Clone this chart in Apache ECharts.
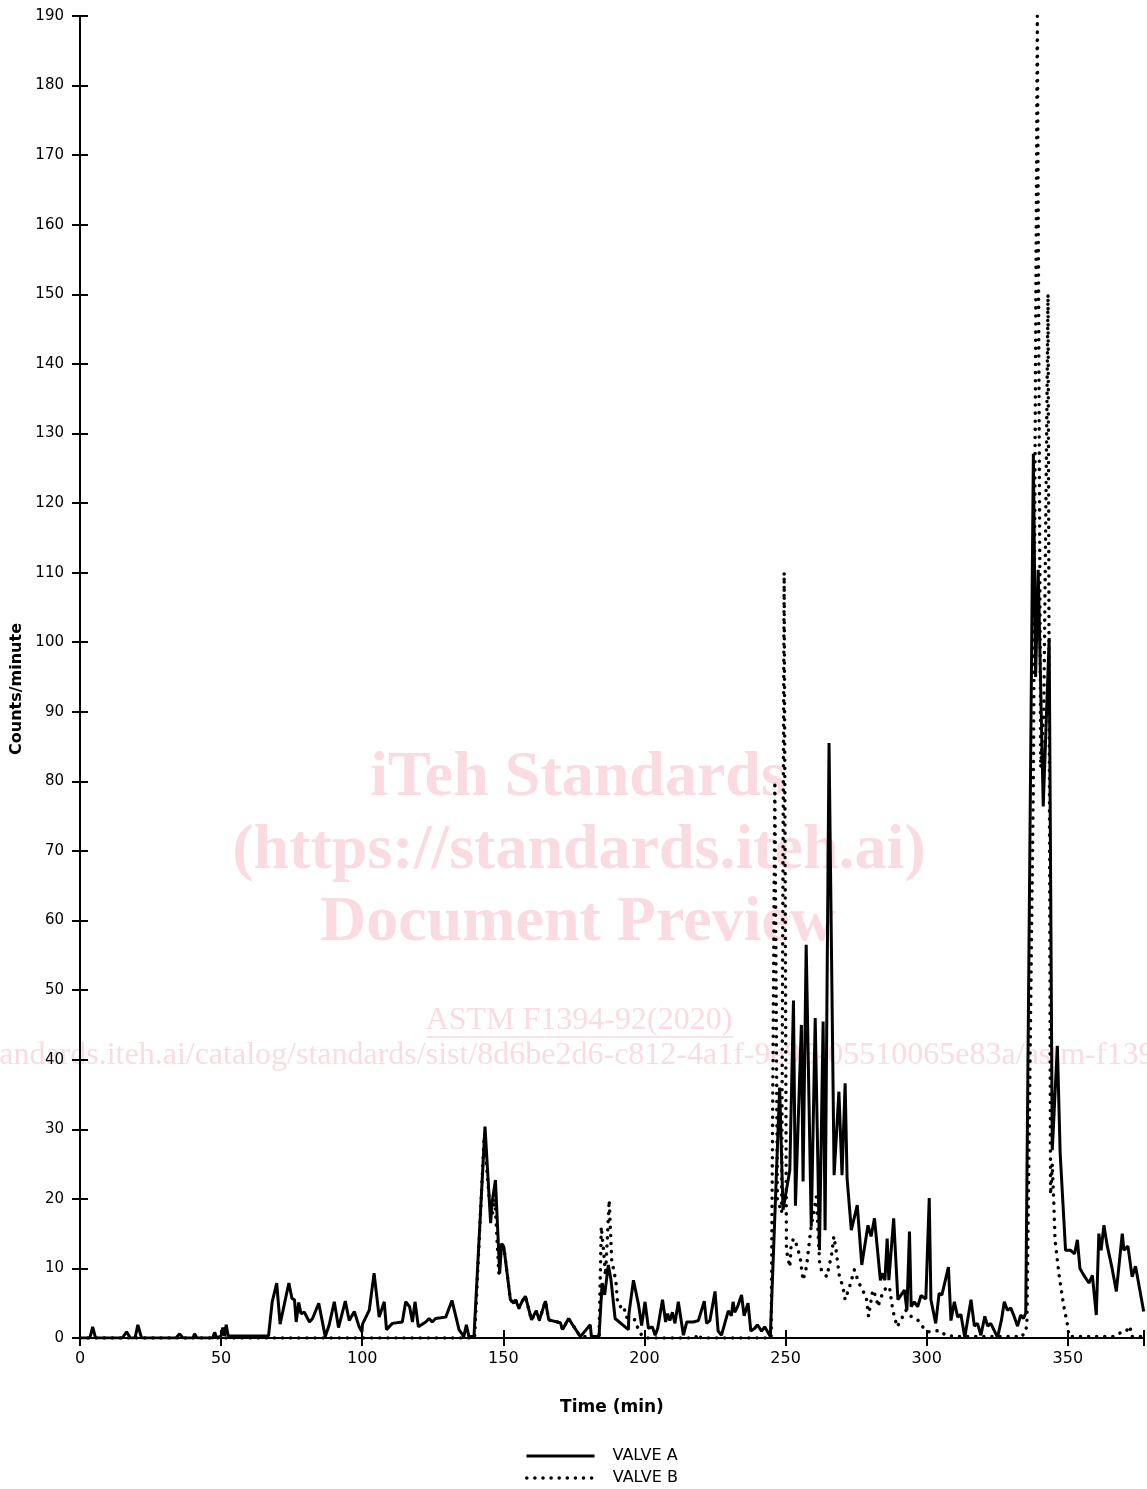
<!DOCTYPE html>
<html>
<head>
<meta charset="utf-8">
<script src="https://cdn.jsdelivr.net/npm/echarts@6/dist/echarts.min.js"></script>
<style>
html,body{margin:0;padding:0;background:#fff;}
#chart{width:1147px;height:1489px;}
</style>
</head>
<body>
<div id="chart"></div>
<script>
// ---- Data (time in min, counts/minute) ----
const xTicks = [0, 50, 100, 150, 200, 250, 300, 350];
const yTicks = [0,10,20,30,40,50,60,70,80,90,100,110,120,130,140,150,160,170,180,190];

const valveA = [
[0,0],[3.5,0],[4.5,1.6],[5.5,0],[15,0],[16.5,0.9],[17.8,0],[19.5,0],[20.5,1.9],[21.8,0],[34,0],[35.3,0.6],[36.5,0],[40,0],[40.6,0.6],[41.5,0],[47,0],[47.7,0.8],[48.5,0],[50,0.3],[50.6,1.5],[51.2,0.3],[51.8,1.9],[52.5,0.3],[66.8,0.3],
[68.1,5.2],[69.7,7.9],[70.9,2.0],[74,7.9],[75.1,5.7],[76,5.5],[76.6,2.3],[77.5,5.1],[78.3,3.5],[79.5,3.7],[81.3,2.3],[82.4,2.8],[84.6,5.0],[86.9,0.2],[88.3,1.9],[88.9,2.0],[90.1,5.2],[91.6,1.5],[94,5.3],[95.4,2.5],[97.2,3.8],[98.9,1.6],[99.9,0.9],[100.1,2],[102.5,4],[104.2,9.3],[106,3.0],[107.8,5.2],[108.6,1.2],[110.7,2.1],[114.2,2.3],[115.4,5.2],[116.8,4.5],[117.8,2.3],[118.7,5.2],[119.9,1.6],[122.5,2.3],[123.7,2.8],[124.8,2.3],[126,2.8],[129.6,3.0],[131.8,5.4],[134.3,1.2],[136,0.2],[136.9,1.9],[137.8,0.2],[139.6,0.2],
[143.5,30.4],[145.5,16.5],[146,19.4],[147.2,22.7],[148.7,9.3],[149.4,13.6],[150.2,13],[152.5,5.5],[153.7,5],[154.3,5.5],[155.5,4.3],[156.7,5.3],[157.8,6],[160,2.6],[161.6,3.9],[162.8,2.6],[164.9,5.3],[166.1,2.6],[170.2,2.2],[171,1.2],[173.1,2.8],[177.3,0.2],[180.8,1.9],[181.2,0.2],[183.9,0.2],
[185,7.9],[185.9,6.2],[187.2,10.5],[188.1,8.5],[189.6,2.8],[194.3,1.2],[194.5,3.5],[196.1,8.3],[197.9,4.8],[199,1.8],[200.2,5.2],[201.4,1.4],[202.8,1.6],[203.8,0.4],[204.7,1.4],[206.4,5.5],[207.5,2.3],[208.2,3.5],[209,2.5],[209.9,3.7],[210.8,2.1],[212,5.2],[213.8,0.4],[215,2.3],[217.3,2.3],[219.1,2.5],[221.2,5.3],[222,2.1],[223.2,2.5],[225,6.7],[226.1,1.0],[227.3,0.4],[229.7,3.9],[230.8,3.2],[231.4,5.2],[232,3.7],[233,4.5],[234.4,6.2],[235.3,3.2],[236.7,5.0],[237.7,1.0],[239.1,1.4],[240,1.9],[241.5,1.0],[242.6,1.6],[244.6,0.2],[245.3,0.3],
[247.9,36],[249.1,18.4],[251.5,24.1],[252.8,48.5],[253.5,19],[255.6,45],[256.2,22.5],[257.3,56.5],[259.1,16],[260.5,46],[262,12.6],[263.3,45.5],[264,15.5],[265.4,85.5],[267.2,23.4],[268.9,35.4],[270,23.4],[271.1,36.6],[271.8,22.9],[273.3,15.5],[275.4,19.1],[277,10.5],[279.2,16.2],[280.3,14.6],[281.5,17.2],[283.6,8.3],[284.5,9.3],[285.2,8.3],[286,14.3],[286.6,8.3],[288.3,17.2],[289.8,5.5],[292.1,6.9],[293,4.0],[293.9,15.3],[294.5,4.5],[295.6,5.2],[296.8,4.5],[298,6.1],[299.7,5.6],[300.9,20.1],[301.5,5.5],[303.2,2.1],[304.4,6.4],[305.4,6.2],[307.7,10.2],[308.6,2.5],[309.8,5.2],[311,3.0],[312.1,3.4],[313.5,0.1],[315.7,5.5],[316.9,1.7],[318,2.1],[319.2,0.4],[320.6,3.1],[321.6,1.7],[322.7,2.1],[325.1,0.1],[326.5,2.6],[327.5,5.2],[328.6,4.0],[329.8,4.3],[331,3.1],[332.2,1.7],[333.3,3.3],[334.3,2.8],[335.1,3.6],
[337.8,127.1],[338.6,95],[339.5,110.4],[341.3,76.4],[343.4,100.6],[344.5,27],[346.3,42],[347.3,26.5],[349.2,12.6],[351,12.6],[352.4,12.1],[353.4,14.1],[354.3,10],[355.7,9.0],[357.5,7.9],[358.7,9.0],[360.1,3.3],[361,15],[361.8,12.6],[362.8,16.2],[364,13.2],[365.7,10],[367.2,6.7],[369.3,15],[369.9,12.6],[371.3,13.2],[372.8,8.8],[374,10.3],[376.9,3.8]
];

const valveB = [
[0,0],[139.8,0],[143.2,29],[145,20],[146,17.5],[147,20],[148.4,9.3],[149.4,13.6],[150.2,13],[152.5,5.5],[153.7,5],[154.3,5.5],[155.5,4.3],[156.7,5.3],[157.8,6],[160,2.6],[161.6,3.9],[162.8,2.6],[164.9,5.3],[166.1,2.6],[170.2,2.2],[171,1.2],[173.1,2.8],[177.3,0.2],[183.9,0.2],
[184.7,16],[185.5,12.6],[186.2,9],[187.5,19.8],[188.4,11.2],[189.9,8.1],[190.5,5],[191.4,4.5],[192.6,4.7],[193.5,3],[196.7,2.6],[197.5,1.6],[199,0.4],[201,0],[218,0],[219,0.6],[220,0],
[244.9,0],[246.2,80],[247.1,20],[248.6,18],[249.5,110],[250.3,12.6],[251.5,10.2],[252,13.6],[252.9,14.3],[254.2,13.1],[255.3,11.2],[256.2,8.3],[257.4,10.2],[258.9,15.5],[260.9,20.3],[262.1,10.5],[262.7,9.8],[264.6,8.8],[266.2,11.7],[267.1,14.6],[268,12.3],[269.1,8.8],[270.3,7.4],[271.1,5.5],[272.7,7.4],[274.4,9.8],[275.6,8.3],[276.8,7.2],[278.6,5.9],[279.4,3.1],[280.9,6.9],[282.1,5.9],[282.7,4.5],[284.8,6.9],[286.8,7.4],[288,4.0],[289.5,1.6],[290.9,2.6],[292.7,4.0],[294.5,3.1],[296.8,2.6],[298.6,1.6],[300.4,0.9],[302.1,0.9],[304.4,1.1],[306.7,0.4],[310,0.2],
[334,0.2],[334.5,1.2],[335.5,1.5],[337.8,80],[339.2,190],[340.4,82],[341.5,90],[343,150],[343.9,20.6],[344.5,25],[345,19.8],[345.5,14],[346.5,10.5],[347,8.8],[347.7,6.9],[348.6,4.5],[349.2,3.3],[349.8,2.1],[350.5,0.2],[366.3,0.2],[369.3,0.9],[370.5,0.9],[372,1.7],[372.6,0.2],[377,0.2]
];

const seriesNames = ['VALVE A', 'VALVE B'];
const xName = 'Time (min)';
const yName = 'Counts/minute';

const FONT = 'DejaVu Sans';
const chart = echarts.init(document.getElementById('chart'), null, {renderer: 'canvas'});

const wmColor = 'rgba(240,160,175,0.38)';
const baseX = {
  type: 'value', min: 0, max: 377, interval: 50,
  splitLine: {show: false}
};
const baseY = {
  type: 'value', min: 0, max: 190, interval: 10,
  splitLine: {show: false}
};
const dotType = [0.1, 8];
const legendBase = {
  show: true, orient: 'horizontal', left: 520,
  itemWidth: 68, itemHeight: 14,
  itemStyle: {opacity: 0},
  textStyle: {fontFamily: FONT, fontSize: 16, color: '#000', padding: [0, 0, 0, 13]}
};

chart.setOption({
  animation: false,
  backgroundColor: '#fff',
  grid: {left: 80, right: 0, top: 16, bottom: 151, containLabel: false},
  xAxis: [
    Object.assign({}, baseX, {
      position: 'bottom',
      name: xName, nameLocation: 'middle', nameGap: 61,
      nameTextStyle: {fontFamily: FONT, fontSize: 17, fontWeight: 'bold', color: '#000'},
      axisLine: {show: true, onZero: false, lineStyle: {color: '#000', width: 2}},
      axisTick: {show: true, inside: false, length: 8, lineStyle: {color: '#000', width: 2}},
      axisLabel: {show: true, margin: 13, fontFamily: FONT, fontSize: 16, color: '#000',
        formatter: v => xTicks.indexOf(v) >= 0 ? String(v) : ''}
    }),
    Object.assign({}, baseX, {
      position: 'bottom', offset: 0,
      axisLine: {show: false},
      axisTick: {show: true, inside: true, length: 8, lineStyle: {color: '#000', width: 2}},
      axisLabel: {show: false}
    })
  ],
  yAxis: [
    Object.assign({}, baseY, {
      position: 'left',
      name: yName, nameLocation: 'middle', nameGap: 54, nameRotate: 90,
      nameTextStyle: {fontFamily: FONT, fontSize: 16, fontWeight: 'bold', color: '#000', padding: [0, 24, 0, 0]},
      axisLine: {show: true, onZero: false, lineStyle: {color: '#000', width: 2}},
      axisTick: {show: true, inside: false, length: 8, lineStyle: {color: '#000', width: 2}},
      axisLabel: {show: true, margin: 16, fontFamily: FONT, fontSize: 15, color: '#000',
        formatter: v => yTicks.indexOf(v) >= 0 ? String(v) : ''}
    }),
    Object.assign({}, baseY, {
      position: 'left', offset: 0,
      axisLine: {show: false},
      axisTick: {show: true, inside: true, length: 8, lineStyle: {color: '#000', width: 2}},
      axisLabel: {show: false}
    })
  ],
  legend: [
    Object.assign({}, legendBase, {top: 1443, data: [seriesNames[0]], lineStyle: {width: 3, color: '#000'}}),
    Object.assign({}, legendBase, {top: 1465, data: [seriesNames[1]], lineStyle: {width: 3.5, color: '#000', type: dotType, cap: 'round'}})
  ],
  graphic: [
    {type: 'text', z: 0, silent: true, style: {text: 'iTeh Standards', x: 578, y: 778, textAlign: 'center', textVerticalAlign: 'middle', font: 'bold 64px "Liberation Serif"', fill: wmColor}},
    {type: 'text', z: 0, silent: true, style: {text: '(https://standards.iteh.ai)', x: 579, y: 851, textAlign: 'center', textVerticalAlign: 'middle', font: 'bold 64px "Liberation Serif"', fill: wmColor}},
    {type: 'text', z: 0, silent: true, style: {text: 'Document Preview', x: 578, y: 923, textAlign: 'center', textVerticalAlign: 'middle', font: 'bold 64px "Liberation Serif"', fill: wmColor}},
    {type: 'text', z: 0, silent: true, style: {text: 'ASTM F1394-92(2020)', x: 579, y: 1021, textAlign: 'center', textVerticalAlign: 'middle', font: '32px "Liberation Serif"', fill: wmColor}},
    {type: 'line', z: 0, silent: true, shape: {x1: 426, y1: 1037, x2: 733, y2: 1037}, style: {stroke: wmColor, lineWidth: 1.5}},
    {type: 'text', z: 0, silent: true, style: {text: 'https://standards.iteh.ai/catalog/standards/sist/8d6be2d6-c812-4a1f-9e95-05510065e83a/astm-f1394-922020', x: 583, y: 1056, textAlign: 'center', textVerticalAlign: 'middle', font: '32px "Liberation Serif"', fill: wmColor}}
  ],
  series: [
    {
      name: seriesNames[0], type: 'line', data: valveA, xAxisIndex: 0, yAxisIndex: 0,
      showSymbol: false, symbol: 'none', z: 3,
      lineStyle: {color: '#000', width: 3, type: 'solid', join: 'bevel'},
      itemStyle: {color: '#000'}
    },
    {
      name: seriesNames[1], type: 'line', data: valveB, xAxisIndex: 0, yAxisIndex: 0,
      showSymbol: false, symbol: 'none', z: 2,
      lineStyle: {color: '#000', width: 3.5, type: dotType, cap: 'round', join: 'round'},
      itemStyle: {color: '#000'}
    }
  ]
});
</script>
</body>
</html>
